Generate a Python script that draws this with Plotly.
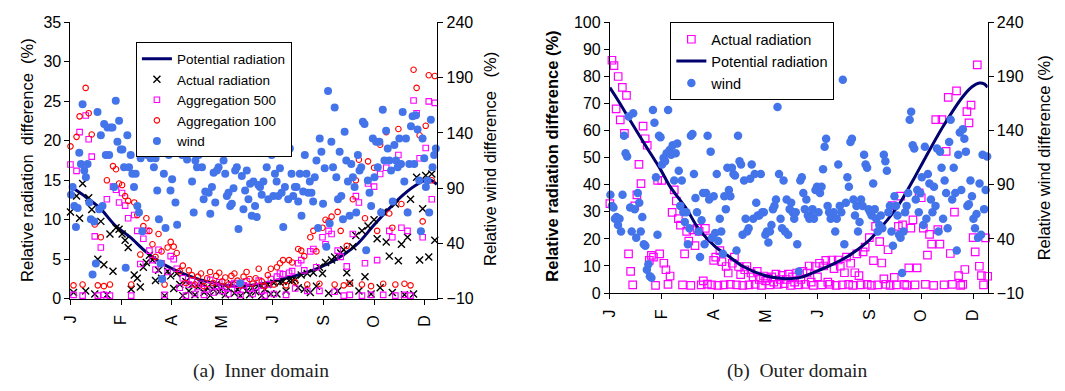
import numpy as np
import plotly.graph_objects as go

# ---------------- data ----------------
month_ticks = [1, 51, 101, 151, 201, 251, 301, 351]
month_labels = ["J", "F", "A", "M", "J", "S", "O", "D"]

# (a) Inner domain: radiation series sampled every 3 days
pot_days_a = [1, 15, 30, 45, 60, 75, 90, 105, 120, 135, 150, 165, 180, 195, 210,
              225, 240, 255, 270, 285, 300, 315, 330, 345, 355, 363]
pot_a = [14.2, 13.0, 11.5, 9.3, 7.8, 6.0, 4.6, 3.6, 2.8, 2.2, 1.8, 1.6, 1.7, 2.0, 2.5,
         3.0, 3.6, 4.4, 5.5, 7.0, 9.2, 11.3, 13.2, 14.6, 15.1, 14.5]

actual_a = [11.0, 0.8, 13.0, 10.2, 14.6, 1.0, 12.8,
            11.3, 0.6, 5.0, 9.8, 4.3, 0.5, 8.2, 3.5, 9.0, 8.8,
            8.2, 7.4, 6.5, 1.2, 3.0, 2.6, 1.5, 4.0, 4.6, 5.5,
            4.9, 2.3, 3.6, 2.6, 0.4, 3.5, 2.9, 1.3, 3.2, 1.8,
            0.4, 2.2, 1.0, 1.8, 0.5, 1.5, 2.0, 0.8, 1.4, 0.4, 1.2, 1.8, 0.9, 1.5, 0.5,
            1.3, 1.9, 0.7, 1.2, 0.4, 1.6, 1.0, 0.5, 1.4, 0.9, 1.7, 0.4, 1.2, 1.8, 0.6,
            2.0, 0.6, 2.1, 2.2, 1.0, 2.3, 2.3, 2.4, 1.4, 3.0, 1.2, 3.2, 0.8, 3.3,
            1.6, 4.0, 3.2, 4.6, 0.7, 4.9, 5.3, 1.0, 5.8, 6.2, 3.3, 2.0, 6.6,
            8.0, 1.0, 8.6, 2.8, 9.2, 0.6, 10.0, 7.6, 1.4, 11.0, 7.2, 5.4, 0.8,
            12.0, 4.8, 6.9, 0.5, 7.8, 12.6, 0.6, 15.4, 4.9, 11.4, 15.6, 5.3, 15.8, 7.4, 2.5]

agg500_a = [17.0, 0.5, 16.2, 21.1, 0.4, 23.2, 20.2,
            18.0, 7.9, 0.4, 6.5, 0.5, 12.6, 0.4, 14.2, 13.8, 12.2,
            13.4, 11.8, 10.2, 0.4, 10.6, 8.6, 4.4, 7.6, 8.6, 6.1,
            4.9, 3.7, 6.2, 4.5, 0.5, 3.4, 5.4, 5.0, 3.8, 1.4,
            2.6, 0.4, 1.8, 2.3, 0.6, 1.5, 1.9, 0.5, 1.2, 2.4, 0.8, 1.6, 2.1, 1.0, 1.4,
            0.6, 1.8, 2.0, 1.1, 0.5, 1.7, 2.2, 1.3, 0.6, 1.5, 2.3, 1.0, 0.4, 1.8, 2.5,
            0.6, 2.8, 3.2, 3.1, 0.5, 3.3, 3.5, 1.3, 4.5, 4.9, 3.6, 1.0, 6.0, 6.3,
            4.0, 1.0, 7.8, 6.9, 8.6, 8.2, 0.9, 6.1, 5.3, 0.4, 4.1, 0.5, 8.2,
            13.0, 12.2, 0.4, 4.5, 14.6, 0.5, 14.2, 4.9, 15.8, 0.5, 16.6, 8.6, 7.8,
            0.4, 18.2, 9.0, 0.5, 8.6, 0.4, 25.1, 23.5, 17.8, 7.8, 19.1, 25.0, 12.6, 24.8, 3.7]

agg100_a = [19.3, 1.7, 20.5, 23.1, 1.8, 26.7, 23.5,
            20.8, 9.4, 1.7, 7.8, 1.6, 15.0, 1.8, 16.8, 16.4, 14.6,
            14.4, 13.0, 12.4, 1.8, 12.2, 10.6, 5.6, 9.2, 10.2, 8.6,
            6.9, 5.3, 8.2, 6.0, 1.8, 6.5, 7.2, 6.6, 5.8, 3.5,
            4.2, 2.0, 3.6, 3.0, 1.8, 2.8, 3.2, 1.6, 2.6, 3.4, 2.0, 2.9, 3.3, 2.2, 2.7,
            1.8, 2.9, 3.2, 2.3, 1.7, 2.8, 3.4, 2.5, 1.9, 2.6, 3.8, 2.2, 1.6, 3.0, 3.8,
            1.8, 4.0, 4.5, 4.9, 1.7, 4.9, 4.6, 2.1, 6.3, 6.1, 5.4, 1.8, 7.8, 8.6,
            6.0, 1.9, 9.0, 10.0, 9.8, 10.4, 1.8, 11.0, 8.6, 1.7, 6.7, 1.9, 12.6,
            15.0, 17.6, 1.8, 10.2, 17.4, 1.6, 16.6, 8.6, 19.5, 1.9, 21.1, 10.8, 9.0,
            1.8, 21.5, 12.0, 1.9, 11.0, 1.7, 29.0, 26.7, 20.7, 9.8, 21.9, 28.3, 15.0, 28.2, 5.7]

wind_a = [84, 91, 74, 55, 72, 122, 112, 166, 106, 100,
          112, 77, 62, 12, 60, 22, 159, 71, 138, 74,
          148, 120, 145, 120, 145, 145, 91, 169, 132, 151,
          125, 125, 109, 18, 138, 109, 120, 103, 91, 103,
          74, 68, 117, 51, 128, 148, 120, 142, 117, 135,
          109, 117, 88, 62, 22, 8, 103, 54, 138, 120,
          88, 98, 129, 77, 57, 132, 141, 120, 122, 134,
          116, 122, 126, 96, 68, 115, 109, 120, 135, 109,
          80, 87, 123, 86, 67, 91, 104, 77, 106, 109,
          135, 122, 115, 103, 83, 86, 74, 76, 90, 106,
          109, 53, 4, 101, 71, 88, 106, 80, 94, 65, 96,
          74, 64, 93, 91, 84, 96, 122, 109, 80, 129,
          120, 83, 103, 96, 83, 108, 86, 55, 91, 181,
          80, 126, 103, 83, 91, 91, 78, 103, 65, 87,
          120, 103, 86, 96, 86, 78, 100, 115, 54, 135,
          123, 76, 108, 37, 178, 58, 132, 109, 163, 100,
          80, 123, 83, 62, 141, 115, 96, 65, 112, 100,
          91, 68, 120, 106, 109, 150, 148, 34, 97, 86,
          74, 135, 100, 132, 109, 132, 68, 161, 115, 142,
          126, 115, 106, 78, 129, 115, 109, 135, 112, 159,
          96, 135, 68, 112, 146, 155, 112, 156, 143, 97,
          51, 135, 117, 91, 97, 68, 152, 109, 120, 126]

# (b) Outer domain
pot_days_b = [1, 10, 20, 35, 50, 59, 75, 86, 103, 114, 129, 151, 170, 185, 200, 215,
              230, 248, 264, 280, 295, 305, 322, 341, 350, 357, 362, 365]
pot_b = [75.9, 70.5, 64.1, 54.7, 45.5, 39.3, 31.0, 24.0, 17.0, 14.0, 9.9, 6.4, 5.3, 5.8,
         8.0, 10.5, 13.5, 18.5, 25.0, 33.0, 43.0, 50.0, 61.5, 72.5, 76.2, 77.6, 77.2, 76.0]

actual_b = [33, 86, 84, 68, 80, 64, 76, 59, 73, 14.5,
            8, 3, 32.2, 36.3, 47.5, 40.4, 61.7, 57, 54.6, 12.1,
            13.9, 13.3, 2.8, 41.6, 14.5, 41.6, 11, 8.6, 3.2, 6.3,
            29.8, 38.1, 34, 27.5, 25.1, 3, 14.5, 22.8, 19.2, 2.8,
            23.3, 17.5, 23.9, 22.8, 3, 4.5, 23.9, 3.3, 20.4, 3,
            12.1, 13.3, 2.8, 15.7, 11.6, 3, 9.8, 7.4, 3.2, 11,
            13.3, 3, 9.8, 6.8, 2.8, 8.6, 9.8, 3, 7.4, 6,
            3.2, 8, 5, 2.8, 6.3, 4.5, 5.5, 3, 6, 4,
            7, 3.2, 5, 6.5, 3.5, 5, 7, 2.8, 6, 4,
            7.4, 3, 5, 8, 3.2, 7.4, 10, 4, 2.8, 9.8,
            6, 11, 3, 10, 12.1, 4, 3.2, 12.2, 9, 2.8,
            12.2, 9.9, 3, 7.5, 13.3, 3.2, 11, 2.8, 7.5, 14.5,
            6.4, 3, 15.2, 17, 3.2, 20.5, 2.8, 12, 24.6, 3,
            19, 11.1, 5.2, 3.2, 16, 2.8, 32.3, 5.8, 3, 24.6,
            35.8, 25.2, 3.2, 2.8, 9.3, 24, 27, 3, 9.3, 37,
            35.2, 24, 3.2, 14, 21.7, 18.1, 2.8, 64.1, 23.4, 18.1,
            64.1, 3, 52.3, 72.3, 14.6, 3.2, 29.9, 74.7, 6.4, 2.8,
            3.2, 8.7, 67, 62.9, 69.4, 20.5, 15.2, 84.3, 9.9, 6.4,
            3, 20.4, 6.2]

wind_b = [80.8, 70.5, 69, 58.7, 60.2, 52.8, 58.7, 46.9, 80.8, 135.3,
          119.1, 116.2, 153, 69, 46.9, 156, 67.5, 41, 82.3, 73.4,
          46.9, 60.2, 35.1, 33.6, 11.5, 16.5, 5.6, 4.1, 159, 147.2,
          97, 43.9, 135.3, 133.9, 108.8, 114.7, 111.7, 119.1, 159, 122,
          117.7, 126.5, 94, 119.1, 128, 102.9, 70.5, 94, 64.6, 55.7,
          64.6, 35, 49.8, 135.3, 136.8, 99.9, 77.8, 64.6, 46.9, 23.3,
          57.2, 82.3, 35, 82.3, 135.3, 76.3, 120.6, 41, 79.3, 45.4,
          99.9, 38.1, 58.7, 46.9, 26.3, 79.3, 67.5, 105.8, 85.2, 79.3,
          105.8, 99.9, 98.5, 29.2, 135.3, 111.7, 108.8, 43.9, 94, 58.7,
          46.9, 49.8, 95.5, 108.8, 58.7, 99.9, 73.4, 61.6, 61.6, 99.9,
          64.6, 64.6, 43.9, 46.9, 36.6, 46.9, 52.8, 67.5, 70.5, 76.3,
          161.9, 99.9, 58.7, 49.8, 94, 46.9, 76.3, 43.9, 67.5, 73.4,
          64.6, 58.7, 64.6, 35, 10, 94, 97, 82.3, 67.5, 76.3, 61.6,
          58.7, 61.6, 67.5, 58.7, 85.2, 88.2, 64.6, 82.3, 88.2, 104.4,
          125, 132.4, 70.5, 64.6, 58.7, 61.6, 64.6, 46.9, 58.7, 108.8,
          70.5, 64.6, 186.9, 35, 73.4, 97, 88.2, 129.4, 132.4, 76.3,
          61.6, 70.5, 46.9, 55.7, 76.3, 70.5, 117.7, 108.8, 105.8, 67.5,
          64.6, 61.6, 91.1, 67.5, 58.7, 46.9, 52.8, 61.6, 49.8, 117.7,
          111.7, 102.9, 64.6, 70.5, 46.9, 33.6, 79.3, 70.5, 61.6, 43.9,
          41, 8.6, 46.9, 64.6, 70.5, 82.3, 150.1, 157.5, 126.5, 123.5,
          76.3, 85.2, 64.6, 82.3, 97, 52.8, 125, 58.7, 99.9, 91.1,
          76.3, 64.6, 88.2, 70.5, 123.5, 46.9, 120.6, 105.8, 58.7, 94,
          82.3, 49.8, 129.4, 150.1, 76.3, 105.8, 82.3, 29.2, 117.7, 138.3,
          85.2, 141.2, 132.4, 120.6, 70.5, 72, 94, 79.3, 58.7, 49.8,
          63.1, 41, 91.1, 43.9, 117.7, 67.5, 85.2, 116.2]

# day positions of the sampled series
days_a = list(range(1, 3 * len(actual_a), 3))
days_wa = np.linspace(1.5, 362, len(wind_a))
days_b = list(range(1, 2 * len(actual_b), 2))
days_wb = np.linspace(1.5, 364.5, len(wind_b))

# ---------------- styling ----------------
W, H = 1065, 391
FONT = "Liberation Sans, Arial, sans-serif"
NAVY = "#00006E"
MAG = "#FF00FF"
RED = "#FF0000"
BLUE = "#4374EA"


def px(xp):
    return xp / W


def py(yp):
    return 1 - yp / H


fig = go.Figure()

# ----- panel (a) -----
fig.add_trace(go.Scatter(x=pot_days_a, y=pot_a, mode="lines", name="Potential radiation",
                         line=dict(color=NAVY, width=3, shape="spline", smoothing=0.8),
                         xaxis="x", yaxis="y", legend="legend"))
fig.add_trace(go.Scatter(x=days_a, y=actual_a, mode="markers", name="Actual radiation",
                         marker=dict(symbol="x-thin", size=7, color="black",
                                     line=dict(width=1.4, color="black")),
                         cliponaxis=False, xaxis="x", yaxis="y", legend="legend"))
fig.add_trace(go.Scatter(x=days_a, y=agg500_a, mode="markers", name="Aggregation 500",
                         marker=dict(symbol="square-open", size=5.5, color=MAG,
                                     line=dict(width=1.1, color=MAG)),
                         cliponaxis=False, xaxis="x", yaxis="y", legend="legend"))
fig.add_trace(go.Scatter(x=days_a, y=agg100_a, mode="markers", name="Aggregation 100",
                         marker=dict(symbol="circle-open", size=5.5, color=RED,
                                     line=dict(width=1.1, color=RED)),
                         cliponaxis=False, xaxis="x", yaxis="y", legend="legend"))
fig.add_trace(go.Scatter(x=days_wa, y=wind_a, mode="markers", name="wind",
                         marker=dict(symbol="circle", size=8, color=BLUE),
                         cliponaxis=False, xaxis="x", yaxis="y2", legend="legend"))

# ----- panel (b) -----
fig.add_trace(go.Scatter(x=days_b, y=actual_b, mode="markers", name="Actual radiation",
                         marker=dict(symbol="square-open", size=7.5, color=MAG,
                                     line=dict(width=1.2, color=MAG)),
                         cliponaxis=False, xaxis="x2", yaxis="y3", legend="legend2"))
fig.add_trace(go.Scatter(x=pot_days_b, y=pot_b, mode="lines", name="Potential radiation",
                         line=dict(color=NAVY, width=3, shape="spline", smoothing=0.8),
                         xaxis="x2", yaxis="y3", legend="legend2"))
fig.add_trace(go.Scatter(x=days_wb, y=wind_b, mode="markers", name="wind",
                         marker=dict(symbol="circle", size=8.5, color=BLUE),
                         cliponaxis=False, xaxis="x2", yaxis="y4", legend="legend2"))

axis_common = dict(showline=True, linecolor="black", linewidth=1, ticks="outside",
                   ticklen=5, tickcolor="black", showgrid=False, zeroline=False,
                   tickfont=dict(family=FONT, size=16, color="black"))

xa_common = dict(axis_common, tickvals=month_ticks, ticktext=month_labels,
                 tickangle=-90, ticklabelstandoff=4)

fig.update_layout(
    width=W, height=H, autosize=False,
    margin=dict(l=0, r=0, t=0, b=0),
    paper_bgcolor="white", plot_bgcolor="white",
    font=dict(family=FONT, color="black"),
    xaxis=dict(xa_common, domain=[px(62), px(432)], range=[1, 363.5], anchor="y"),
    yaxis=dict(axis_common, domain=[py(304), py(15)], range=[0, 35], dtick=5, anchor="x"),
    yaxis2=dict(axis_common, overlaying="y", side="right", range=[-10, 240],
                tick0=-10, dtick=50, anchor="x"),
    xaxis2=dict(xa_common, domain=[px(606), px(987)], range=[1, 365], anchor="y3"),
    yaxis3=dict(axis_common, domain=[py(298), py(15)], range=[0, 100], dtick=10, anchor="x2"),
    yaxis4=dict(axis_common, overlaying="y3", side="right", range=[-10, 240],
                tick0=-10, dtick=50, anchor="x2"),
    legend=dict(x=px(128), y=py(36), xanchor="left", yanchor="top",
                bgcolor="white", bordercolor="black", borderwidth=1,
                font=dict(family=FONT, size=13.5, color="black"),
                tracegroupgap=0, itemwidth=30),
    legend2=dict(x=px(667), y=py(15), xanchor="left", yanchor="top",
                 bgcolor="white", bordercolor="black", borderwidth=1,
                 font=dict(family=FONT, size=14.5, color="black"),
                 tracegroupgap=0, itemwidth=30),
    showlegend=True,
)

annos = [
    dict(x=px(18), y=py(159), text="Relative radiation\u00a0 difference\u00a0 (%)",
         textangle=-90, font=dict(family=FONT, size=16.5, color="black")),
    dict(x=px(485), y=py(158), text="Relative wind difference\u00a0\u00a0 (%)",
         textangle=-90, font=dict(family=FONT, size=16.5, color="black")),
    dict(x=px(548), y=py(155), text="<b>Relative radiation difference (%)</b>",
         textangle=-90, font=dict(family=FONT, size=16.5, color="black")),
    dict(x=px(1044), y=py(157), text="Relative wind difference (%)",
         textangle=-90, font=dict(family=FONT, size=16.5, color="black")),
    dict(x=px(254), y=py(380), text="(a)\u00a0 Inner domain",
         font=dict(family="Liberation Serif, Times New Roman, serif", size=19.5, color="#222222")),
    dict(x=px(795), y=py(380), text="(b)\u00a0 Outer domain",
         font=dict(family="Liberation Serif, Times New Roman, serif", size=19.5, color="#222222")),
]
for a in annos:
    a.update(xref="paper", yref="paper", showarrow=False, xanchor="center", yanchor="middle")
fig.update_layout(annotations=annos)

fig.write_html("out.html", config={"displayModeBar": False},
               post_script="document.body.style.margin='0';document.body.style.overflow='hidden';")
